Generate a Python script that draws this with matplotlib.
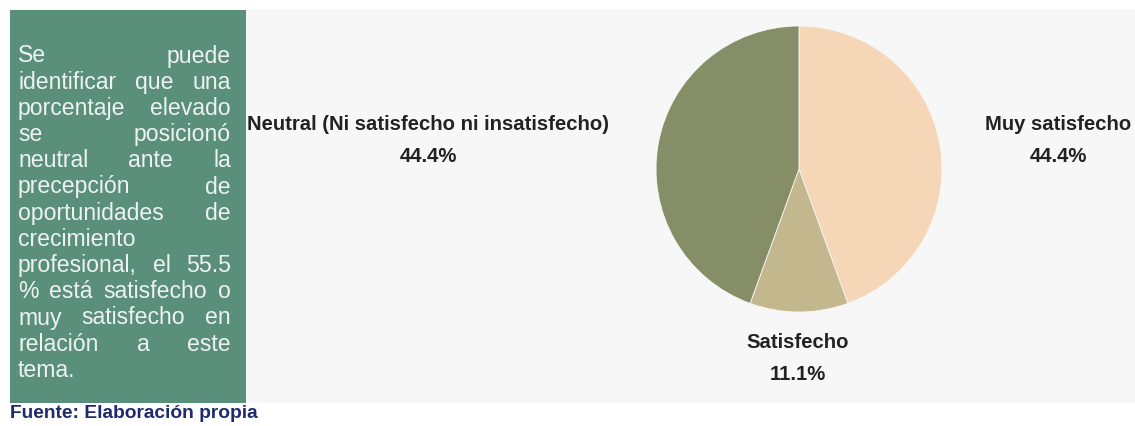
import matplotlib
matplotlib.use("Agg")
import matplotlib.pyplot as plt
from matplotlib.patches import Rectangle

# Data
categories = ["Muy satisfecho", "Satisfecho", "Neutral (Ni satisfecho ni insatisfecho)"]
values = [44.4, 11.1, 44.4]
colors = ["#f5d6b6", "#c3b78e", "#868e67"]

note_lines = [
    "Se puede",
    "identificar que una",
    "porcentaje elevado",
    "se posicionó",
    "neutral ante la",
    "precepción de",
    "oportunidades de",
    "crecimiento",
    "profesional, el 55.5",
    "% está satisfecho o",
    "muy satisfecho en",
    "relación a este",
    "tema.",
]
source_text = "Fuente: Elaboración propia"

W, H = 1135, 426
fig = plt.figure(figsize=(W / 100, H / 100), dpi=100)
fig.patch.set_facecolor("white")

# Full-figure canvas in pixel coordinates
bg = fig.add_axes([0, 0, 1, 1])
bg.set_xlim(0, W)
bg.set_ylim(H, 0)
bg.axis("off")

bg.add_patch(Rectangle((246, 9), W - 246, 394, facecolor="#f7f7f7", edgecolor="none"))
bg.add_patch(Rectangle((10, 10), 236, 393, facecolor="#5a8f7b", edgecolor="none"))

# Pie
pie_ax = fig.add_axes([656 / W, (H - 312) / H, 286 / W, 286 / H])
pie_ax.pie(values, colors=colors, startangle=90, counterclock=False,
           wedgeprops=dict(linewidth=0.6, edgecolor="#f7f7f7"))
pie_ax.set_xlim(-1, 1)
pie_ax.set_ylim(-1, 1)
pie_ax.set_aspect("equal")
pie_ax.axis("off")

label_font = dict(family="Liberation Sans", fontweight="bold", fontsize=14.6,
                  color="#222222", ha="center", va="center")
label_pos = [(1058, 124), (798, 343), (428, 124)]
for name, val, (x, y) in zip(categories, values, label_pos):
    bg.text(x, y, name, **label_font)
    bg.text(x, y + 32, f"{val:.1f}%", **label_font)

# Justified note text in the green box
fig.canvas.draw()
renderer = fig.canvas.get_renderer()
note_font = dict(family="Liberation Sans", fontsize=16.6, color="#eef3ef", va="center")
left, right = 18, 231
y0, dy = 56, 26.2
for i, line in enumerate(note_lines):
    y = y0 + i * dy
    words = line.split()
    last = (i == len(note_lines) - 1) or len(words) == 1
    if last:
        bg.text(left, y, line, ha="left", **note_font)
        continue
    arts = [bg.text(0, y, w, ha="left", **note_font) for w in words]
    widths = [a.get_window_extent(renderer).width for a in arts]
    gap = (right - left - sum(widths)) / (len(words) - 1)
    x = left
    for a, w in zip(arts, widths):
        a.set_x(x)
        x += w + gap

bg.text(10, 414, source_text, family="Liberation Sans", fontweight="bold",
        fontsize=13.8, color="#1f2a6e", ha="left", va="center")

fig.savefig("out.png", dpi=100, facecolor="white")
